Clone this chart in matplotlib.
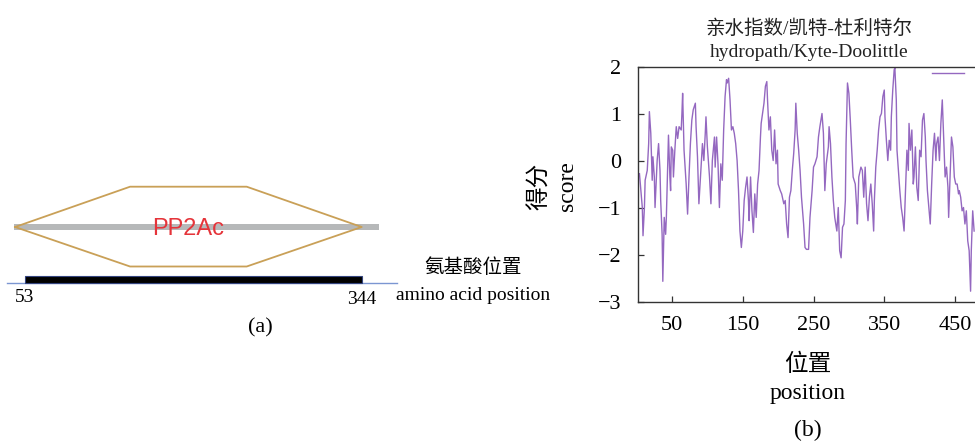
import matplotlib
matplotlib.use("Agg")
import matplotlib.pyplot as plt

plt.rcParams["font.family"] = ["Liberation Serif", "Noto Sans CJK SC"]
plt.rcParams["axes.unicode_minus"] = True

# (a) domain diagram, residue coordinates
domain_name = "PP2Ac"
domain_start, domain_end = 53, 344
protein_line = (43.5, 359.2)
hex_x = [44.4, 143.8, 244.6, 344.0, 244.6, 143.8, 44.4]
baseline = (37.4, 374.3)

# (b) Kyte-Doolittle hydropathy profile
positions = [
    4, 8, 9, 11, 12, 15, 17, 18, 20, 22,
    23, 25, 26, 29, 31, 33, 34, 36, 37, 39,
    41, 42, 44, 45, 47, 48, 49, 51, 52, 54,
    56, 58, 60, 63, 64, 65, 67, 70, 72, 74,
    76, 78, 80, 83, 84, 86, 88, 91, 93, 95,
    97, 98, 100, 103, 105, 107, 110, 111, 113, 115,
    117, 119, 121, 123, 125, 127, 128, 130, 132, 134,
    136, 138, 140, 142, 144, 146, 148, 150, 152, 154,
    156, 158, 159, 161, 163, 165, 167, 169, 171, 173,
    175, 176, 178, 180, 182, 184, 185, 187, 189, 191,
    193, 195, 197, 199, 200, 203, 205, 208, 210, 212,
    214, 216, 218, 220, 222, 224, 225, 227, 229, 231,
    233, 236, 238, 240, 243, 245, 248, 250, 252, 255,
    257, 259, 262, 264, 266, 268, 271, 272, 274, 276,
    278, 280, 283, 285, 287, 289, 291, 293, 295, 296,
    298, 300, 302, 304, 306, 309, 311, 312, 314, 317,
    319, 321, 323, 325, 327, 329, 331, 333, 335, 336,
    338, 340, 342, 344, 346, 348, 350, 351, 353, 355,
    357, 359, 360, 362, 364, 365, 367, 368, 370, 372,
    374, 376, 378, 380, 382, 384, 385, 387, 389, 391,
    392, 394, 396, 398, 400, 402, 404, 406, 408, 409,
    411, 413, 415, 417, 419, 421, 423, 424, 426, 428,
    430, 432, 434, 436, 438, 440, 441, 443, 445, 447,
    449, 451, 453, 455, 456, 458, 460, 462, 464, 466,
    468, 470, 472, 473, 475, 477,
]
scores = [
    -0.27, -0.99, -1.59, -0.99, -0.41, -0.20, 0.37, 1.05, 0.59, -0.41,
    0.09, -0.34, -0.99, 0.01, 0.37, -0.20, -0.84, -1.56, -2.56, -1.20,
    -1.56, -1.20, 0.01, 0.55, -0.34, -0.63, 0.30, 0.23, -0.34, 0.23,
    0.73, 0.48, 0.73, 0.66, 1.01, 1.44, 0.23, -0.49, -1.13, -0.34,
    0.37, 0.87, 1.09, 1.23, 0.73, 0.09, -0.91, -0.13, 0.37, 0.01,
    0.59, 0.94, 0.30, -0.34, -0.91, 0.01, 0.51, -0.13, 0.51, -0.06,
    -0.99, -0.06, -0.41, 0.66, 1.37, 1.73, 1.66, 1.76, 1.30, 0.66,
    0.73, 0.59, 0.37, 0.01, -0.63, -1.49, -1.84, -1.49, -0.84, -0.56,
    -0.34, -0.84, -1.27, -0.34, -1.06, -1.52, -0.70, -1.20, -0.49, -0.20,
    0.51, 0.80, 1.01, 1.23, 1.59, 1.69, 1.30, 0.66, 0.94, 0.23,
    0.01, 0.66, -0.06, 0.23, -0.49, -0.63, -0.70, -0.91, -0.84, -1.34,
    -1.63, -0.77, -0.63, -0.20, 0.16, 0.66, 1.23, 0.59, 0.23, -0.20,
    -0.77, -1.34, -1.84, -1.88, -1.88, -1.20, -0.63, -0.13, -0.06, 0.09,
    0.51, 0.73, 1.01, 0.59, -0.63, -0.06, 0.30, 0.73, 0.37, -0.34,
    -0.84, -1.20, -1.49, -0.99, -1.91, -2.06, -1.41, -1.34, -0.84, 0.37,
    1.66, 1.44, 0.87, 0.23, -0.34, -0.49, -0.99, -1.34, -0.34, -0.13,
    -0.20, -0.77, -0.13, -0.91, -1.27, -0.77, -0.49, -0.91, -1.49, -0.84,
    -0.13, 0.23, 0.66, 0.94, 1.01, 1.37, 1.51, 0.94, 0.44, 0.01,
    0.44, 0.23, 0.94, 1.51, 1.94, 1.98, 1.30, 0.23, -0.20, -0.63,
    -0.99, -1.20, -1.49, -0.63, 0.23, -0.20, 0.80, 0.23, 0.66, -0.49,
    -0.34, 0.30, -0.56, -0.84, 0.23, 0.09, 0.87, 1.01, 0.51, 0.01,
    -0.63, -0.99, -1.34, -0.49, 0.23, 0.59, 0.01, 0.37, 0.51, 0.01,
    0.80, 1.30, 0.51, -0.34, -0.13, -0.56, -1.20, -0.34, 0.51, 0.30,
    -0.34, -0.49, -0.49, -0.70, -0.63, -0.77, -1.06, -0.99, -1.34, -1.06,
    -1.70, -1.91, -2.77, -1.91, -1.06, -1.49,
]
x_ticks = [50, 150, 250, 350, 450]
y_ticks = [-3, -2, -1, 0, 1, 2]

W, H = 975, 443
fig = plt.figure(figsize=(W / 100, H / 100), dpi=100)

# ---- panel (a): y runs in pixel rows from the top so the layout is easy to read
ax_a = fig.add_axes([0, 0, 400 / W, 1])
ax_a.set_xlim(31.4, 377.1)
ax_a.set_ylim(H, 0)
ax_a.axis("off")

ax_a.plot(baseline, [283, 283], color="#7b96d2", lw=1.0, zorder=1)
ax_a.barh(279.5, domain_end - domain_start, left=domain_start, height=7,
          color="black", edgecolor="#34447e", lw=0.8, zorder=2)
ax_a.barh(227, protein_line[1] - protein_line[0], left=protein_line[0],
          height=6, color="#b6b8b9", lw=0, zorder=2)
hex_y = [227, 186.7, 186.7, 227, 266.5, 266.5, 227]
ax_a.plot(hex_x, hex_y, color="#c9a057", lw=1.3, zorder=3)
ax_a.text((hex_x[1] + hex_x[2]) / 2, 229, domain_name, color="#e5343a",
          family="Liberation Sans", fontsize=17, ha="center", va="center",
          zorder=4)
ax_a.text(domain_start, 298, str(domain_start), fontsize=14,
          ha="center", va="center")
ax_a.text(domain_end, 300, str(domain_end), fontsize=14,
          ha="center", va="center")
fig.text(473 / W, 1 - 268 / H, "氨基酸位置", fontsize=14, ha="center",
         va="center")
fig.text(473 / W, 1 - 295 / H, "amino acid position", fontsize=14,
         ha="center", va="center")
fig.text(260 / W, 1 - 328 / H, "(a)", fontsize=16, ha="center", va="center")

# ---- panel (b)
x0, x1 = 1.5, 486
ax_b = fig.add_axes([637.7 / W, 141 / H, (x1 - x0) * 0.7075 / W, 235 / H])
line, = ax_b.plot(positions, scores, color="#9468c0", lw=1.0)
ax_b.set_xlim(x0, x1)
ax_b.set_ylim(-3, 2)
ax_b.set_xticks(x_ticks)
ax_b.set_yticks(y_ticks)
ax_b.tick_params(direction="in", length=4, width=0.9, color="#333333",
                 labelsize=16, top=False, right=False)
ax_b.tick_params(axis="x", pad=10)
ax_b.tick_params(axis="y", pad=12)
for sp in ax_b.spines.values():
    sp.set_color("#333333")
    sp.set_linewidth(1.0)
ax_b.set_title("亲水指数/凯特-杜利特尔\nhydropath/Kyte-Doolittle",
               fontsize=14, pad=7, color="#222222", linespacing=1.45)
ax_b.legend([line], [""], loc="center left",
            bbox_to_anchor=(294.3 / ((x1 - x0) * 0.7075), (302 - 75) / 235),
            frameon=False, borderpad=0, borderaxespad=0, handletextpad=0,
            handlelength=1.9, fontsize=12)

fig.text(540 / W, 1 - 186 / H, "得分", fontsize=17, rotation=90,
         ha="center", va="center")
fig.text(568 / W, 1 - 186 / H, "score", fontsize=17, rotation=90,
         ha="center", va="center")
fig.text(808 / W, 1 - 365 / H, "位置", fontsize=17, ha="center", va="center")
fig.text(808 / W, 1 - 393 / H, "position", fontsize=17, ha="center",
         va="center")
fig.text(808 / W, 1 - 430 / H, "(b)", fontsize=17, ha="center", va="center")

fig.savefig("out.png", dpi=100)
